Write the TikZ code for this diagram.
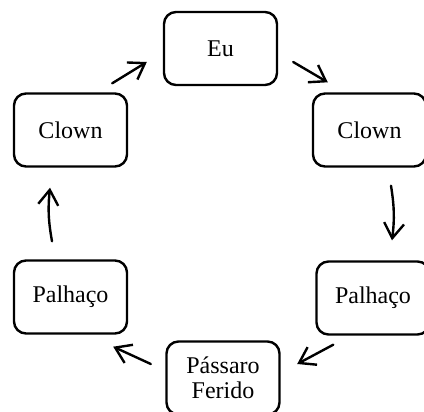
\documentclass[tikz,border=0pt]{standalone}
\usepackage{fontspec}
\setmainfont{Liberation Serif}
\usetikzlibrary{arrows.meta}
\begin{document}
\begin{tikzpicture}[>={Straight Barb[length=7.5pt,width=10pt]},line join=round,line cap=round,x=0.5pt,y=-0.5pt,line width=1.2pt,font=\fontsize{12}{12.5}\selectfont,
	box/.style={draw,rounded corners=6pt,minimum width=56.5pt,minimum height=36.5pt,inner sep=0pt,align=center}]
	\useasboundingbox (0,0) rectangle (424,412);
	\node[box] (eu) at (220.5,48.5) {Eu};
	\node[box] (clownL) at (70.5,130) {Clown};
	\node[box] (clownR) at (369.5,130) {Clown};
	\node[box] (palhacoL) at (70.5,297) {Palhaço};
	\node[box] (palhacoR) at (373,298) {Palhaço};
	\node[box] (passaro) at (223,378) {Pássaro\\Ferido};
	\draw[->] ([shift={(-18.5,-18)}]palhacoL.north) to[bend left=8] ([shift={(-20.5,20)}]clownL.south);
	\draw[->] ([shift={(-16,-9)}]clownL.north east) -- ([shift={(-16,13.5)}]eu.west);
	\draw[->] ([shift={(15,13.5)}]eu.east) -- ([shift={(16,-10)}]clownR.north west);
	\draw[->] ([shift={(21.5,18)}]clownR.south) to[bend left=8] ([shift={(19,-20)}]palhacoR.north);
	\draw[->] ([shift={(18,9)}]palhacoR.south west) -- ([shift={(16.5,-14)}]passaro.east);
	\draw[->] ([shift={(-14.5,-14)}]passaro.west) -- ([shift={(-15,12)}]palhacoL.south east);
\end{tikzpicture}
\end{document}
